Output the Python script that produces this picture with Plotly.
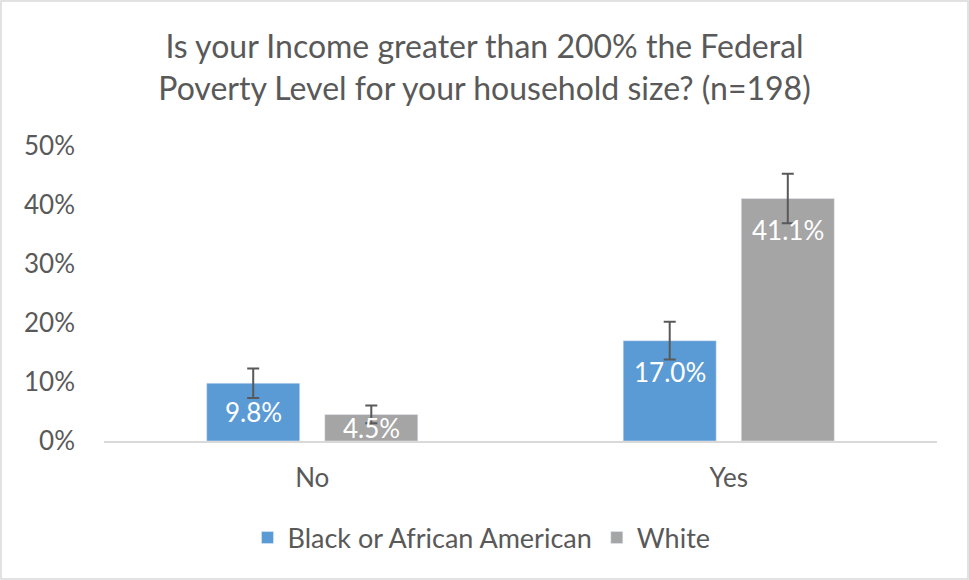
import plotly.graph_objects as go

categories = ["No", "Yes"]
black_values = [0.098, 0.170]
white_values = [0.045, 0.411]
black_err = [0.025, 0.032]
white_err = [0.015, 0.042]
black_labels = ["9.8%", "17.0%"]
white_labels = ["4.5%", "41.1%"]
y_ticks = [0, 0.1, 0.2, 0.3, 0.4, 0.5]
y_tick_labels = ["0%", "10%", "20%", "30%", "40%", "50%"]

FONT = "Lato, 'Open Sans', sans-serif"
TXT = "#595959"
Y_MAX = 0.5

W, H = 969, 580
ml, mr, mt, mb = 104, 32, 146, 139
pw, ph = W - ml - mr, H - mt - mb
BARGAP, GROUPGAP = 0.433, 0.212
slot_px = pw / len(categories) * (1 - BARGAP) / 2

fig = go.Figure()
series = [
    ("Black or African American", black_values, black_err, black_labels, "#5b9bd5", -1),
    ("White", white_values, white_err, white_labels, "#a5a5a5", 1),
]
annotations = []
for name, vals, errs, labels, color, side in series:
    fig.add_trace(go.Bar(
        name=name, x=categories, y=vals,
        marker=dict(color=color),
        error_y=dict(type="data", array=errs, color="#595959", thickness=2, width=6),
    ))
    for c, v, lab in zip(categories, vals, labels):
        bar_px = v / Y_MAX * ph
        annotations.append(dict(
            x=c, y=v, xref="x", yref="y", text=lab, showarrow=False,
            xshift=side * slot_px / 2, yshift=-min(31, bar_px / 2), yanchor="middle",
            font=dict(color="white", size=26, family=FONT),
        ))

fig.update_layout(
    width=W, height=H,
    margin=dict(l=ml, r=mr, t=mt, b=mb),
    paper_bgcolor="white", plot_bgcolor="white",
    font=dict(family=FONT, color=TXT, size=26),
    title=dict(
        text="Is your Income greater than 200% the Federal<br>Poverty Level for your household size? (n=198)",
        x=0.5, xanchor="center", y=1 - 58 / H, yanchor="middle",
        font=dict(size=32, color=TXT, family=FONT),
    ),
    barmode="group", bargap=BARGAP, bargroupgap=GROUPGAP,
    showlegend=True,
    legend=dict(orientation="h", x=0.5 - 39 / pw, xanchor="center", y=-97 / ph, yanchor="middle",
                font=dict(size=27, color=TXT, family=FONT), itemwidth=30, traceorder="normal"),
    yaxis=dict(range=[0, Y_MAX], tickvals=y_ticks, ticktext=y_tick_labels, showgrid=False,
               zeroline=False, showline=False, ticks="", tickfont=dict(size=26, color=TXT),
               ticklabelstandoff=28),
    xaxis=dict(showline=True, linecolor="#d9d9d9", linewidth=1.5, ticks="",
               tickfont=dict(size=26, color=TXT), ticklabelstandoff=13),
    annotations=annotations,
    shapes=[dict(type="rect", xref="paper", yref="paper",
                 x0=(-ml + 1) / pw, x1=1 + (mr - 1) / pw,
                 y0=(-mb + 1) / ph, y1=1 + (mt - 1) / ph,
                 line=dict(color="#d9d9d9", width=1.5), layer="below")],
)

fig.write_html("out.html", config={"displayModeBar": False},
               post_script="document.body.style.margin='0';document.body.style.overflow='hidden';")
